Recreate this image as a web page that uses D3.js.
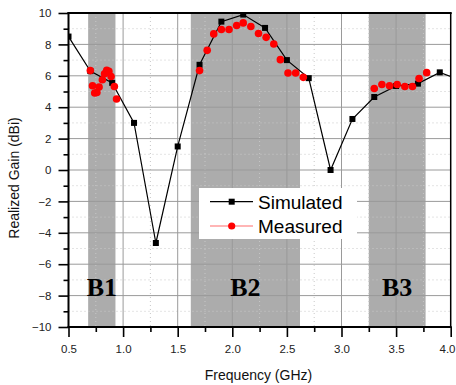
<!DOCTYPE html>
<html><head><meta charset="utf-8">
<script src="https://cdn.jsdelivr.net/npm/d3@7"></script>
<style>
html,body{margin:0;padding:0;background:#fff;}
svg{display:block;font-family:Arial,"Liberation Sans",sans-serif;}
</style></head><body>
<svg id="chart" width="456" height="385"></svg>
<script>
// Simulated realized gain (black squares)
const simFreq = [0.5, 0.7, 0.9, 1.1, 1.3, 1.5, 1.7, 1.9, 2.1, 2.3, 2.5, 2.7, 2.9, 3.1, 3.3, 3.5, 3.7, 3.9, 4.1];
const simGain = [8.5, 6.3, 5.55, 3.0, -4.65, 1.5, 6.7, 9.45, 9.9, 9.05, 7.0, 5.85, 0.0, 3.25, 4.65, 5.35, 5.5, 6.22, 5.7];

// Measured realized gain (red dots), one run per band
const measFreq = [0.70, 0.72, 0.74, 0.76, 0.78, 0.81, 0.83, 0.85, 0.87, 0.89, 0.92, 0.94,
                  1.70, 1.77, 1.83, 1.90, 1.97, 2.04, 2.10, 2.17, 2.24, 2.31, 2.38, 2.44, 2.51, 2.58, 2.65,
                  3.30, 3.37, 3.44, 3.51, 3.58, 3.65, 3.71, 3.78];
const measGain = [6.33, 5.37, 4.90, 4.94, 5.28, 5.75, 6.13, 6.35, 6.28, 5.96, 5.32, 4.52,
                  6.33, 7.62, 8.67, 8.95, 8.95, 9.20, 9.37, 9.14, 8.69, 8.45, 8.03, 7.03, 6.18, 6.18, 5.90,
                  5.19, 5.45, 5.37, 5.45, 5.32, 5.32, 5.83, 6.20];

// Operating bands
const bandNames = ["B1", "B2", "B3"];
const bandStart = [0.68, 1.62, 3.25];
const bandEnd   = [0.93, 2.62, 3.77];

// Axis ticks
const xTicks = [0.5, 1.0, 1.5, 2.0, 2.5, 3.0, 3.5, 4.0];
const xMinor = [0.75, 1.25, 1.75, 2.25, 2.75, 3.25, 3.75];
const yTicks = [-10, -8, -6, -4, -2, 0, 2, 4, 6, 8, 10];
const yMinor = [-9, -7, -5, -3, -1, 1, 3, 5, 7, 9];

const seriesNames = ["Simulated", "Measured"];

const svg = d3.select("#chart");
const W = 456;
const L = 68.5, R = 450.7, T = 13, B = 327;
const x = d3.scaleLinear().domain([0.5, 4.0]).range([L, R]);
const y = d3.scaleLinear().domain([-10, 10]).range([B, T]);

svg.append("defs").append("clipPath").attr("id", "plotClip")
  .append("rect").attr("x", L).attr("y", T).attr("width", R - L).attr("height", B - T);

// shaded bands
svg.append("g").selectAll("rect").data(bandNames).join("rect")
  .attr("x", (d, i) => x(bandStart[i]))
  .attr("width", (d, i) => x(bandEnd[i]) - x(bandStart[i]))
  .attr("y", T).attr("height", B - T)
  .attr("fill", "#acacac");

// minor grid (dotted)
const grid = svg.append("g");
grid.selectAll("line.mx").data(xMinor).join("line").attr("class", "mx")
  .attr("x1", d => x(d)).attr("x2", d => x(d)).attr("y1", T).attr("y2", B)
  .attr("stroke", "#c8c8c8").attr("stroke-width", 1).attr("stroke-dasharray", "1,3");
grid.selectAll("line.my").data(yMinor).join("line").attr("class", "my")
  .attr("x1", L).attr("x2", R).attr("y1", d => y(d)).attr("y2", d => y(d))
  .attr("stroke", "#c8c8c8").attr("stroke-width", 1).attr("stroke-dasharray", "1,3");

// major grid
grid.selectAll("line.gx").data(xTicks.slice(1, -1)).join("line").attr("class", "gx")
  .attr("x1", d => x(d)).attr("x2", d => x(d)).attr("y1", T).attr("y2", B)
  .attr("stroke", "#9a9a9a").attr("stroke-width", 1);
grid.selectAll("line.gy").data(yTicks.slice(1, -1)).join("line").attr("class", "gy")
  .attr("x1", L).attr("x2", R).attr("y1", d => y(d)).attr("y2", d => y(d))
  .attr("stroke", "#9a9a9a").attr("stroke-width", 1);

// band labels
svg.append("g").selectAll("text").data(bandNames).join("text")
  .attr("x", (d, i) => x((bandStart[i] + bandEnd[i]) / 2))
  .attr("y", y(-8))
  .attr("text-anchor", "middle")
  .attr("font-family", "'Liberation Serif','Times New Roman',serif")
  .attr("font-weight", "bold").attr("font-size", 26).attr("fill", "#000")
  .text(d => d);

// axes
const xAxis = svg.append("g").attr("transform", `translate(0,${B})`)
  .call(d3.axisBottom(x).tickValues(xTicks).tickSize(10).tickPadding(8).tickFormat(d3.format(".1f")));
const xAxisMinor = svg.append("g").attr("transform", `translate(0,${B})`)
  .call(d3.axisBottom(x).tickValues(xMinor).tickSize(5).tickFormat(""));
const yAxis = svg.append("g").attr("transform", `translate(${L},0)`)
  .call(d3.axisLeft(y).tickValues(yTicks).tickSize(10).tickPadding(7).tickFormat(d3.format("d")));
const yAxisMinor = svg.append("g").attr("transform", `translate(${L},0)`)
  .call(d3.axisLeft(y).tickValues(yMinor).tickSize(5).tickFormat(""));

[xAxis, xAxisMinor, yAxis, yAxisMinor].forEach(g => {
  g.select(".domain").remove();
  g.selectAll(".tick line").attr("stroke", "#000").attr("stroke-width", 1.6);
  g.selectAll(".tick text").attr("font-size", 11.5).attr("fill", "#222")
    .attr("font-family", "Arial,'Liberation Sans',sans-serif");
});

// keep the last x tick label inside the page edge
xAxis.selectAll(".tick text").filter(d => d === xTicks[xTicks.length - 1])
  .attr("text-anchor", "end")
  .attr("x", W - 1 - x(xTicks[xTicks.length - 1]));

// frame
const frame = svg.append("g").attr("fill", "none").attr("stroke", "#000");
frame.append("line").attr("x1", L).attr("x2", L).attr("y1", T - 1).attr("y2", B + 1).attr("stroke-width", 2);
frame.append("line").attr("x1", L - 1).attr("x2", R + 1).attr("y1", B).attr("y2", B).attr("stroke-width", 2);
frame.append("line").attr("x1", L - 1).attr("x2", R + 1).attr("y1", T).attr("y2", T).attr("stroke-width", 2.2);
frame.append("line").attr("x1", R).attr("x2", R).attr("y1", T).attr("y2", B).attr("stroke-width", 1.5);

// axis titles
svg.append("text")
  .attr("transform", `translate(19,${(T + B) / 2 + 8}) rotate(-90)`)
  .attr("text-anchor", "middle").attr("font-size", 14).attr("fill", "#111")
  .text("Realized Gain (dBi)");
svg.append("text")
  .attr("x", 258.5).attr("y", 380)
  .attr("text-anchor", "middle").attr("font-size", 14).attr("fill", "#111")
  .text("Frequency (GHz)");

// data
const plot = svg.append("g").attr("clip-path", "url(#plotClip)");
const simPts = simFreq.map((f, i) => [f, simGain[i]]);
const measPts = measFreq.map((f, i) => [f, measGain[i]]);

plot.append("path").datum(simPts)
  .attr("d", d3.line().x(d => x(d[0])).y(d => y(d[1])))
  .attr("fill", "none").attr("stroke", "#000").attr("stroke-width", 1.2);
plot.selectAll("rect.sim").data(simPts).join("rect").attr("class", "sim")
  .attr("x", d => x(d[0]) - 3).attr("y", d => y(d[1]) - 3)
  .attr("width", 6).attr("height", 6).attr("fill", "#000");
plot.selectAll("circle.meas").data(measPts).join("circle").attr("class", "meas")
  .attr("cx", d => x(d[0])).attr("cy", d => y(d[1])).attr("r", 3.8)
  .attr("fill", "#ff0000");

// legend
const lg = svg.append("g");
lg.append("rect").attr("x", 199).attr("y", 188).attr("width", 158).attr("height", 51).attr("fill", "#fff");
const rows = [
  {name: seriesNames[0], y: 201.7},
  {name: seriesNames[1], y: 226}
];
lg.append("line").attr("x1", 210).attr("x2", 253).attr("y1", rows[0].y).attr("y2", rows[0].y)
  .attr("stroke", "#000").attr("stroke-width", 1.2);
lg.append("rect").attr("x", 231.7 - 3).attr("y", rows[0].y - 3).attr("width", 6).attr("height", 6).attr("fill", "#000");
lg.append("line").attr("x1", 210).attr("x2", 253).attr("y1", rows[1].y).attr("y2", rows[1].y)
  .attr("stroke", "#ff9c9c").attr("stroke-width", 1.5);
lg.append("circle").attr("cx", 231.7).attr("cy", rows[1].y).attr("r", 3.6).attr("fill", "#ff0000");
lg.selectAll("text").data(rows).join("text")
  .attr("x", 258).attr("y", d => d.y + 6.8)
  .attr("font-size", 19).attr("fill", "#000")
  .text(d => d.name);
</script>
</body></html>
